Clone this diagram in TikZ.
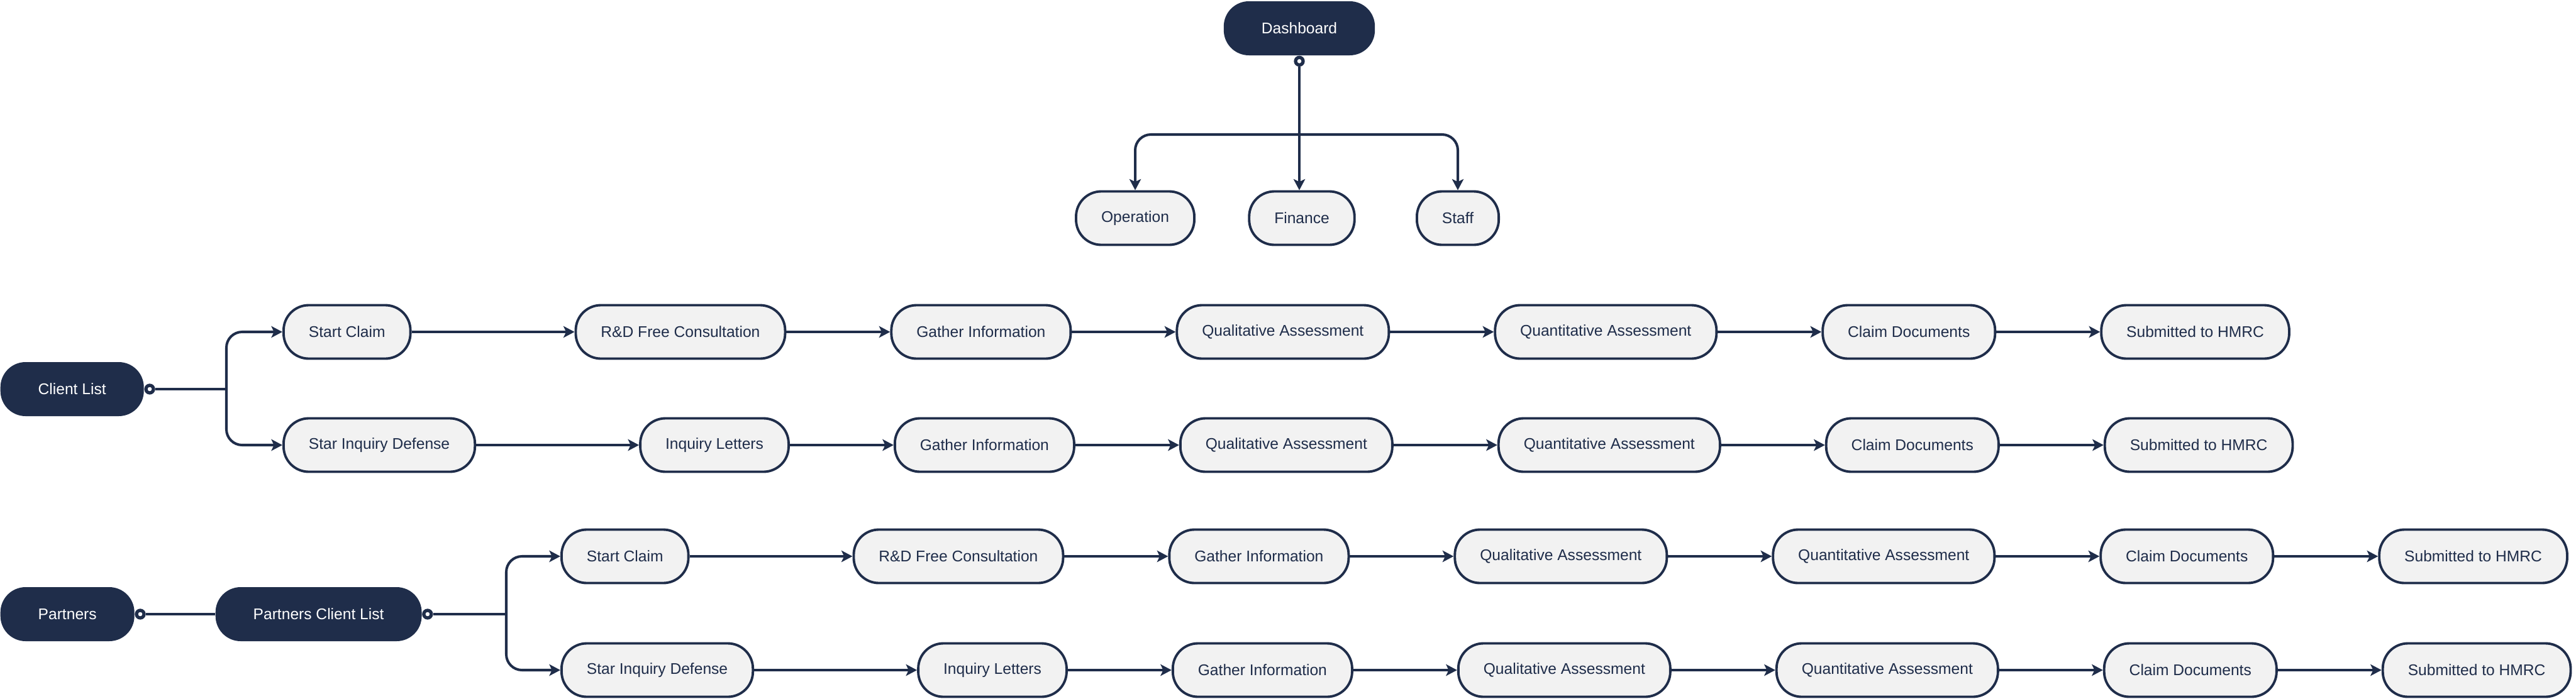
\documentclass[tikz,border=0pt]{standalone}
\usepackage{fontspec}
\setmainfont{Liberation Sans}
\usetikzlibrary{arrows.meta, positioning}
\definecolor{navy}{HTML}{1F2D4A}
\definecolor{pale}{HTML}{F2F2F2}

\begin{document}
\begin{tikzpicture}[>={Stealth[length=5pt, width=5.2pt, inset=1.2pt]},
    font=\fontsize{7pt}{8pt}\selectfont,
    hub/.style={rounded corners=0.4cm, fill=navy, text=white,
                minimum height=0.86cm, inner xsep=0.6cm},
    stepbox/.style={rounded corners=0.4cm, draw=navy, fill=pale, text=navy,
                    line width=1.1pt, minimum height=0.85cm, inner xsep=0.4cm},
    knob/.style={circle, draw=navy, fill=white, line width=1.5pt,
                 inner sep=0pt, minimum size=0.12cm},
    wire/.style={draw=navy, line width=1.15pt, rounded corners=0.25cm},
    flow/.style={wire, ->}]
  \useasboundingbox (0,0) rectangle (40.96,-11.11);

  % Dashboard and its three children
  \node[hub] (dash) at (20.66,-0.45) {Dashboard};
  \node[knob, below=0pt of dash] (dashk) {};
  \node[stepbox] (op)  at (18.05,-3.47) {Operation};
  \node[stepbox] (fin) at (20.70,-3.47) {Finance};
  \node[stepbox] (stf) at (23.18,-3.47) {Staff};
  \coordinate (bar) at (20.66,-2.14);
  \draw[flow] (dashk) -- (dashk |- fin.north);
  \draw[flow] (bar) -| (op.north);
  \draw[flow] (bar) -| (stf.north);

  % Client List
  \node[hub, anchor=west] (cl) at (0,-6.19) {Client List};
  \node[knob, right=0pt of cl] (clk) {};
  \coordinate (j1) at (3.60,-6.19);

  % claim path
  \node[stepbox, anchor=west] (sc1) at (4.49,-5.28) {Start Claim};
  \node[stepbox, right=2.59cm of sc1] (rd1) {R\&D Free Consultation};
  \node[stepbox, right=1.65cm of rd1] (gi1) {Gather Information};
  \node[stepbox, right=1.65cm of gi1] (ql1) {Qualitative Assessment};
  \node[stepbox, right=1.65cm of ql1] (qn1) {Quantitative Assessment};
  \node[stepbox, right=1.65cm of qn1] (cd1) {Claim Documents};
  \node[stepbox, right=1.65cm of cd1] (hm1) {Submitted to HMRC};

  % inquiry path
  \node[stepbox, anchor=west] (sid1) at (4.49,-7.08) {Star Inquiry Defense};
  \node[stepbox, right=2.59cm of sid1] (il1) {Inquiry Letters};
  \node[stepbox, right=1.65cm of il1] (gi2) {Gather Information};
  \node[stepbox, right=1.65cm of gi2] (ql2) {Qualitative Assessment};
  \node[stepbox, right=1.65cm of ql2] (qn2) {Quantitative Assessment};
  \node[stepbox, right=1.65cm of qn2] (cd2) {Claim Documents};
  \node[stepbox, right=1.65cm of cd2] (hm2) {Submitted to HMRC};

  \draw[wire] (clk) -- (j1);
  \draw[flow] (j1) |- (sc1.west);
  \draw[flow] (j1) |- (sid1.west);
  \draw[flow] (sc1) -- (rd1);
  \draw[flow] (rd1) -- (gi1);
  \draw[flow] (gi1) -- (ql1);
  \draw[flow] (ql1) -- (qn1);
  \draw[flow] (qn1) -- (cd1);
  \draw[flow] (cd1) -- (hm1);
  \draw[flow] (sid1) -- (il1);
  \draw[flow] (il1) -- (gi2);
  \draw[flow] (gi2) -- (ql2);
  \draw[flow] (ql2) -- (qn2);
  \draw[flow] (qn2) -- (cd2);
  \draw[flow] (cd2) -- (hm2);

  % Partners
  \node[hub, anchor=west] (pt) at (0,-9.77) {Partners};
  \node[knob, right=0pt of pt] (ptk) {};
  \node[hub, anchor=west] (pcl) at (3.42,-9.77) {Partners Client List};
  \node[knob, right=0pt of pcl] (pclk) {};
  \coordinate (j3) at (8.05,-9.77);

  % partner claim path
  \node[stepbox, anchor=west] (sc3) at (8.91,-8.85) {Start Claim};
  \node[stepbox, right=2.59cm of sc3] (rd3) {R\&D Free Consultation};
  \node[stepbox, right=1.65cm of rd3] (gi3) {Gather Information};
  \node[stepbox, right=1.65cm of gi3] (ql3) {Qualitative Assessment};
  \node[stepbox, right=1.65cm of ql3] (qn3) {Quantitative Assessment};
  \node[stepbox, right=1.65cm of qn3] (cd3) {Claim Documents};
  \node[stepbox, right=1.65cm of cd3] (hm3) {Submitted to HMRC};

  % partner inquiry path
  \node[stepbox, anchor=west] (sid3) at (8.91,-10.66) {Star Inquiry Defense};
  \node[stepbox, right=2.59cm of sid3] (il3) {Inquiry Letters};
  \node[stepbox, right=1.65cm of il3] (gi4) {Gather Information};
  \node[stepbox, right=1.65cm of gi4] (ql4) {Qualitative Assessment};
  \node[stepbox, right=1.65cm of ql4] (qn4) {Quantitative Assessment};
  \node[stepbox, right=1.65cm of qn4] (cd4) {Claim Documents};
  \node[stepbox, right=1.65cm of cd4] (hm4) {Submitted to HMRC};

  \draw[wire] (ptk) -- (pcl);
  \draw[wire] (pclk) -- (j3);
  \draw[flow] (j3) |- (sc3.west);
  \draw[flow] (j3) |- (sid3.west);
  \draw[flow] (sc3) -- (rd3);
  \draw[flow] (rd3) -- (gi3);
  \draw[flow] (gi3) -- (ql3);
  \draw[flow] (ql3) -- (qn3);
  \draw[flow] (qn3) -- (cd3);
  \draw[flow] (cd3) -- (hm3);
  \draw[flow] (sid3) -- (il3);
  \draw[flow] (il3) -- (gi4);
  \draw[flow] (gi4) -- (ql4);
  \draw[flow] (ql4) -- (qn4);
  \draw[flow] (qn4) -- (cd4);
  \draw[flow] (cd4) -- (hm4);
\end{tikzpicture}
\end{document}
